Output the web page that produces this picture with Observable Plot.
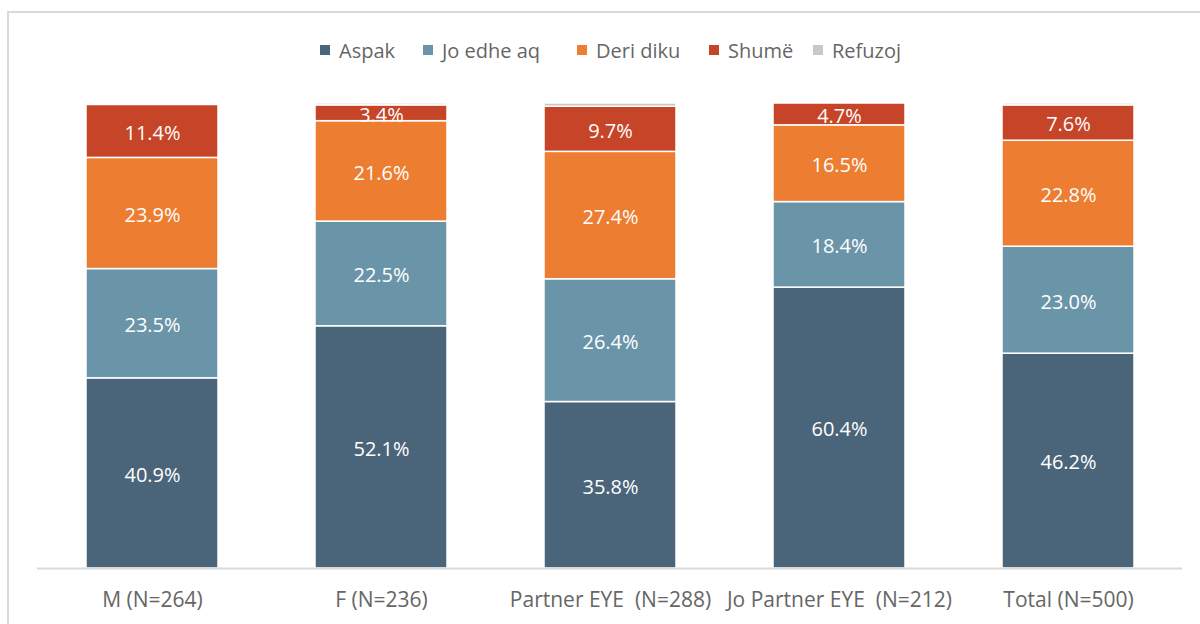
<!DOCTYPE html>
<html>
<head>
<meta charset="utf-8">
<script src="https://cdn.jsdelivr.net/npm/d3@7"></script>
<script src="https://cdn.jsdelivr.net/npm/@observablehq/plot@0.6"></script>
<style>
  html, body { margin: 0; padding: 0; background: #fff; }
  #page { position: relative; width: 1200px; height: 624px; overflow: hidden; font-family: "Open Sans", sans-serif; }
  #frame { position: absolute; left: 7px; top: 11px; width: 1300px; height: 700px; border: 2px solid #d9d9d9; box-sizing: border-box; }
  #legend { position: absolute; top: 36px; left: 0; width: 1200px; height: 28px; font-size: 20px; color: #666; }
  #legend .item { position: absolute; top: 0; height: 28px; display: flex; align-items: center; white-space: nowrap; }
  #legend .sw { width: 10px; height: 10px; margin-right: 9px; }
  #chart { position: absolute; top: 80px; left: 0; }
  #chart svg text { white-space: pre; }
</style>
</head>
<body>
<div id="page">
  <div id="frame"></div>
  <div id="legend"></div>
  <div id="chart"></div>
</div>
<script>
const categories = ["M (N=264)", "F (N=236)", "Partner EYE  (N=288)", "Jo Partner EYE  (N=212)", "Total (N=500)"];
const series = ["Aspak", "Jo edhe aq", "Deri diku", "Shumë", "Refuzoj"];
const colors = ["#4a6479", "#6a95a8", "#ed7d31", "#c64428", "#c8c8c8"];
const aspak    = [40.9, 52.1, 35.8, 60.4, 46.2];
const joEdheAq = [23.5, 22.5, 26.4, 18.4, 23.0];
const deriDiku = [23.9, 21.6, 27.4, 16.5, 22.8];
const shume    = [11.4, 3.4, 9.7, 4.7, 7.6];
const refuzoj  = [0.3, 0.4, 0.7, 0.0, 0.4];

const seriesValues = [aspak, joEdheAq, deriDiku, shume, refuzoj];
const data = [];
series.forEach((s, i) => {
  categories.forEach((c, j) => {
    data.push({category: c, series: s, value: seriesValues[i][j]});
  });
});

// legend (item left positions follow the reference layout)
const legendLeft = [320, 423, 577, 709, 813];
const legend = document.getElementById("legend");
series.forEach((s, i) => {
  const item = document.createElement("div");
  item.className = "item";
  item.style.left = legendLeft[i] + "px";
  const sw = document.createElement("div");
  sw.className = "sw";
  sw.style.background = colors[i];
  const label = document.createElement("span");
  label.textContent = s;
  item.appendChild(sw);
  item.appendChild(label);
  legend.appendChild(item);
});

const chart = Plot.plot({
  width: 1200,
  height: 544,
  marginTop: 23,
  marginBottom: 56,
  marginLeft: 37,
  marginRight: 18,
  style: {fontFamily: "Open Sans", fontSize: "20px", color: "#666", background: "transparent"},
  x: {domain: categories, paddingInner: 0.424, paddingOuter: 0.212, label: null},
  y: {domain: [0, 100], axis: null},
  color: {domain: series, range: colors},
  marks: [
    Plot.barY(data, Plot.stackY({x: "category", y: "value", fill: "series", z: "series", stroke: "white", strokeWidth: 1.5})),
    Plot.ruleY([0], {stroke: "#d9d9d9", strokeWidth: 2}),
    Plot.text(data.filter(d => d.series !== "Refuzoj"), Plot.stackY({
      x: "category", y: "value", z: "series",
      text: d => d.value.toFixed(1) + "%",
      fill: "white", fontSize: 20, dy: 2
    })),
    Plot.axisX({tickSize: 0, tickPadding: 24, fill: "#666", fontSize: 21, label: null})
  ]
});
document.getElementById("chart").appendChild(chart);
</script>
</body>
</html>
